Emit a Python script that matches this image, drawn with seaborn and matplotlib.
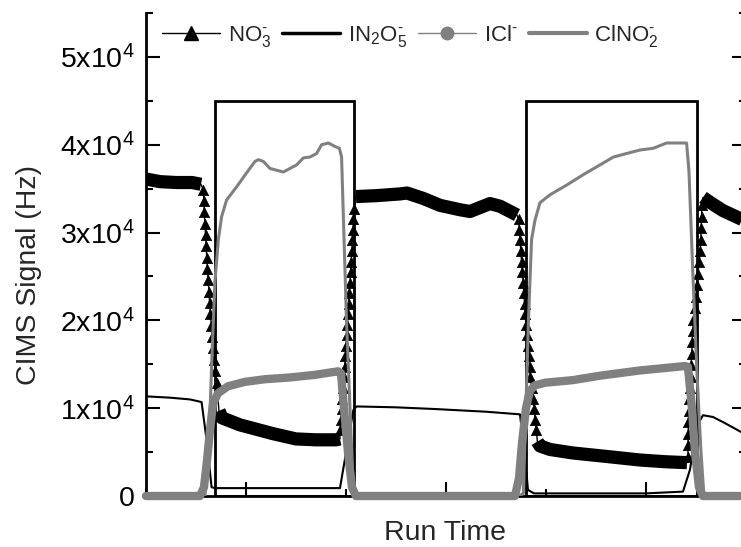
import numpy as np
import matplotlib
matplotlib.use("Agg")
import matplotlib.pyplot as plt
import seaborn as sns
from matplotlib.lines import Line2D
from matplotlib.patches import Rectangle
from matplotlib.ticker import MultipleLocator, FixedLocator, FixedFormatter

# ---- data (signal values in units of 1e4 Hz, run time in arbitrary units) ----
SCALE = 1e4

# NO3- plateaus (dense trace -> heavy band) and transitions (resolved triangles)
no3_a_t = [0.5, 0.57, 0.65, 0.73, 0.775]
no3_a_v = [3.61, 3.58, 3.57, 3.57, 3.55]
no3_drop1_t = [0.7865, 0.789, 0.7915, 0.7945, 0.798, 0.801, 0.804, 0.807, 0.811,
               0.815, 0.818, 0.822, 0.827, 0.8325, 0.8375, 0.8425, 0.8475, 0.8535]
no3_drop1_v = [3.49, 3.36, 3.23, 3.10, 2.97, 2.85, 2.71, 2.59, 2.46,
               2.32, 2.20, 2.07, 1.94, 1.81, 1.69, 1.55, 1.42, 1.29]
no3_b_t = [0.865, 0.88, 0.97, 1.135, 1.25, 1.35, 1.45, 1.47]
no3_b_v = [0.97, 0.89, 0.81, 0.71, 0.65, 0.64, 0.64, 0.65]
no3_rise1_t = [1.470, 1.474, 1.478, 1.482, 1.486, 1.490, 1.493, 1.497, 1.500, 1.503, 1.507,
               1.510, 1.513, 1.516, 1.520, 1.523, 1.526, 1.529, 1.532, 1.535, 1.537, 1.540]
no3_rise1_v = [0.75, 0.87, 0.99, 1.11, 1.23, 1.35, 1.47, 1.59, 1.71, 1.83, 1.95,
               2.07, 2.19, 2.31, 2.43, 2.55, 2.67, 2.79, 2.91, 3.03, 3.15, 3.27]
no3_c_t = [1.55, 1.65, 1.77, 1.805, 1.885, 1.97, 2.07, 2.12, 2.22, 2.27, 2.355]
no3_c_v = [3.41, 3.42, 3.44, 3.45, 3.39, 3.31, 3.26, 3.24, 3.33, 3.30, 3.20]
no3_drop2_t = [2.363, 2.367, 2.371, 2.374, 2.378, 2.382, 2.386, 2.389, 2.393, 2.396, 2.400,
               2.404, 2.409, 2.413, 2.418, 2.422, 2.428, 2.434, 2.440, 2.446, 2.452]
no3_drop2_v = [3.15, 3.03, 2.91, 2.79, 2.67, 2.55, 2.43, 2.31, 2.19, 2.07, 1.95,
               1.83, 1.71, 1.59, 1.47, 1.35, 1.23, 1.11, 0.99, 0.87, 0.75]
no3_d_t = [2.457, 2.47, 2.52, 2.635, 2.805, 2.97, 3.10, 3.205]
no3_d_v = [0.62, 0.57, 0.53, 0.49, 0.45, 0.41, 0.39, 0.38]
no3_rise2_t = [3.210, 3.210, 3.211, 3.212, 3.214, 3.217, 3.220, 3.223, 3.226, 3.229, 3.231, 3.234,
               3.237, 3.243, 3.249, 3.254, 3.260, 3.266, 3.271, 3.274, 3.276, 3.278, 3.280]
no3_rise2_v = [0.45, 0.58, 0.71, 0.84, 0.97, 1.10, 1.23, 1.36, 1.49, 1.62, 1.75, 1.88,
               2.01, 2.14, 2.27, 2.40, 2.53, 2.66, 2.79, 2.92, 3.05, 3.18, 3.31]
no3_e_t = [3.285, 3.33, 3.385, 3.47, 3.5]
no3_e_v = [3.40, 3.33, 3.25, 3.16, 3.13]

# IN2O5-
in2o5_t = [0.5, 0.62, 0.72, 0.778, 0.803, 0.828, 0.845, 1.2, 1.47, 1.537,
           1.553, 1.75, 1.95, 2.2, 2.37, 2.395, 2.41, 2.44, 3.0, 3.185,
           3.22, 3.255, 3.285, 3.335, 3.395, 3.475, 3.5]
in2o5_v = [1.135, 1.12, 1.10, 1.07, 0.64, 0.10, 0.09, 0.09, 0.09, 0.98,
           1.02, 1.01, 0.99, 0.96, 0.93, 0.45, 0.07, 0.03, 0.03, 0.05,
           0.3, 0.8, 0.92, 0.90, 0.83, 0.73, 0.70]

# ICl-
icl_t = [0.5, 0.77, 0.79, 0.805, 0.82, 0.835, 0.86, 0.91, 0.995, 1.095,
         1.22, 1.345, 1.46, 1.475, 1.49, 1.51, 1.53, 1.55,
         2.345, 2.365, 2.38, 2.40, 2.42, 2.445, 2.495, 2.635, 2.77, 2.97,
         3.195, 3.21, 3.23, 3.245, 3.265, 3.285, 3.5]
icl_v = [0, 0, 0.1, 0.4, 0.75, 1.05, 1.17, 1.25, 1.30, 1.33,
         1.35, 1.38, 1.42, 1.40, 1.0, 0.5, 0.1, 0,
         0, 0.2, 0.6, 1.0, 1.2, 1.26, 1.29, 1.32, 1.37, 1.43,
         1.48, 1.47, 1.0, 0.5, 0.1, 0, 0]

# IClNO2-
iclno2_t = [0.5, 0.795, 0.815, 0.83, 0.845, 0.862, 0.878, 0.903, 0.953, 1.003,
            1.045, 1.062, 1.087, 1.12, 1.153, 1.187, 1.22, 1.253, 1.287, 1.32,
            1.353, 1.378, 1.412, 1.445, 1.467, 1.478, 1.503, 1.537, 1.55,
            2.365, 2.387, 2.412, 2.428, 2.445, 2.47, 2.52, 2.603, 2.687, 2.77,
            2.837, 2.903, 2.97, 3.037, 3.103, 3.203, 3.215, 3.235, 3.255, 3.275,
            3.29, 3.5]
iclno2_v = [0, 0, 0.6, 1.6, 2.45, 2.92, 3.18, 3.37, 3.52, 3.68,
            3.81, 3.83, 3.81, 3.73, 3.71, 3.69, 3.73, 3.77, 3.85, 3.86,
            3.90, 4.00, 4.02, 3.98, 3.96, 3.86, 1.97, 0.03, 0,
            0, 0.03, 1.97, 2.92, 3.14, 3.34, 3.43, 3.54, 3.66, 3.77,
            3.86, 3.90, 3.94, 3.96, 4.02, 4.02, 3.7, 2.5, 1.4, 0.5,
            0, 0]

# shaded periods (boxes)
box_start = [0.843, 2.40]
box_end = [1.54, 3.255]
box_top = 4.5

y_ticks = [0, 1, 2, 3, 4, 5]
y_tick_labels = ["0", "1x10$^4$", "2x10$^4$", "3x10$^4$", "4x10$^4$", "5x10$^4$"]

legend_labels = [r"NO$_3^{\text{-}}$", r"IN$_2$O$_5^{\text{-}}$",
                 r"ICl$^{\text{-}}$", r"ClNO$_2^{\text{-}}$"]

GRAY = "#808080"


def main():
    sns.set_theme(style="ticks")
    plt.rcParams["font.family"] = ["Liberation Sans", "DejaVu Sans"]
    plt.rcParams["mathtext.fontset"] = "custom"
    plt.rcParams["mathtext.rm"] = "Liberation Sans"
    plt.rcParams["mathtext.it"] = "Liberation Sans"
    plt.rcParams["mathtext.default"] = "regular"

    fig = plt.figure(figsize=(7.41, 5.47), dpi=100)
    ax = fig.add_axes([0.197, 0.0932, 0.8097, 0.883])

    # boxes marking the sampling periods
    for t0, t1 in zip(box_start, box_end):
        ax.add_patch(Rectangle((t0, 0), t1 - t0, box_top * SCALE, fill=False,
                               edgecolor="black", lw=2, zorder=1))

    # IN2O5-
    sns.lineplot(x=in2o5_t, y=np.array(in2o5_v) * SCALE, ax=ax, color="black",
                 lw=1.5, sort=False, estimator=None, zorder=2)

    # NO3-: thin connecting trace, heavy bands for plateaus, triangles on ramps
    plateaus = [(no3_a_t, no3_a_v), (no3_b_t, no3_b_v), (no3_c_t, no3_c_v),
                (no3_d_t, no3_d_v), (no3_e_t, no3_e_v)]
    ramps = [(no3_drop1_t, no3_drop1_v), (no3_rise1_t, no3_rise1_v),
             (no3_drop2_t, no3_drop2_v), (no3_rise2_t, no3_rise2_v)]
    full_t = (no3_a_t + no3_drop1_t + no3_b_t + no3_rise1_t + no3_c_t
              + no3_drop2_t + no3_d_t + no3_rise2_t + no3_e_t)
    full_v = (no3_a_v + no3_drop1_v + no3_b_v + no3_rise1_v + no3_c_v
              + no3_drop2_v + no3_d_v + no3_rise2_v + no3_e_v)
    sns.lineplot(x=full_t, y=np.array(full_v) * SCALE, ax=ax, color="black",
                 lw=1, sort=False, estimator=None, zorder=3)
    for t, v in plateaus:
        sns.lineplot(x=t, y=np.array(v) * SCALE, ax=ax, color="black", lw=9.5,
                     sort=False, estimator=None, solid_capstyle="butt",
                     solid_joinstyle="round", zorder=3)
    for t, v in ramps:
        sns.scatterplot(x=t, y=np.array(v) * SCALE, ax=ax, marker="^", s=55,
                        color="black", edgecolor="black", linewidth=0.5, zorder=3)

    # ICl- (dense trace -> heavy gray band)
    sns.lineplot(x=icl_t, y=np.array(icl_v) * SCALE, ax=ax, color=GRAY, lw=6,
                 sort=False, estimator=None, solid_capstyle="round",
                 solid_joinstyle="round", clip_on=False, zorder=4)

    # IClNO2-
    sns.lineplot(x=iclno2_t, y=np.array(iclno2_v) * SCALE, ax=ax, color=GRAY,
                 lw=2.2, sort=False, estimator=None, zorder=5)

    # axes
    ax.set_xlim(0.5, 3.5)
    ax.set_ylim(0, 5.5 * SCALE)
    ax.xaxis.set_major_locator(MultipleLocator(1))
    ax.xaxis.set_minor_locator(MultipleLocator(0.5))
    ax.set_xticklabels([])
    ax.yaxis.set_major_locator(FixedLocator([v * SCALE for v in y_ticks]))
    ax.yaxis.set_major_formatter(FixedFormatter(y_tick_labels))
    ax.yaxis.set_minor_locator(MultipleLocator(0.5 * SCALE))

    ax.tick_params(axis="both", which="both", direction="in", width=1.5,
                   colors="black", labelsize=20.5, pad=8)
    ax.tick_params(axis="both", which="major", length=10)
    ax.tick_params(axis="both", which="minor", length=5)
    ax.tick_params(axis="y", which="both", left=True, right=True)
    ax.tick_params(axis="x", which="both", bottom=True, top=False)

    for side in ["left", "right", "bottom"]:
        ax.spines[side].set_linewidth(2)
        ax.spines[side].set_color("black")
    ax.spines["top"].set_visible(False)

    ax.set_ylabel("CIMS Signal (Hz)", fontsize=20.5)
    ax.yaxis.set_label_coords(-0.173, 0.457)
    ax.set_xlabel("Run Time", fontsize=20.5)
    ax.xaxis.set_label_coords(0.498, -0.05)

    handles = [
        Line2D([], [], color="black", lw=1, marker="^", markersize=10),
        Line2D([], [], color="black", lw=2.5),
        Line2D([], [], color=GRAY, lw=1, marker="o", markersize=9),
        Line2D([], [], color=GRAY, lw=3),
    ]
    ax.legend(handles, legend_labels, loc="center left", ncol=4, frameon=False,
              bbox_to_anchor=(0.027, 0.952), borderpad=0, borderaxespad=0,
              fontsize=16, handlelength=2.6, handletextpad=0.35,
              columnspacing=0.5)

    fig.savefig("out.png", dpi=100)
    plt.close(fig)


if __name__ == "__main__":
    main()
